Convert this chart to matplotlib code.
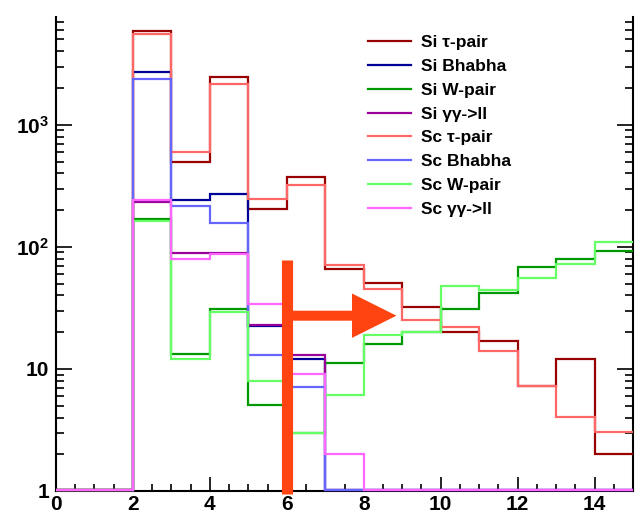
import numpy as np
import matplotlib.pyplot as plt
from matplotlib.ticker import FixedLocator, FixedFormatter, MultipleLocator

plt.rcParams['font.family'] = ['Liberation Sans', 'DejaVu Sans']
plt.rcParams['mathtext.fontset'] = 'custom'
plt.rcParams['mathtext.bf'] = 'Liberation Sans:bold'
plt.rcParams['mathtext.rm'] = 'Liberation Sans:bold'
plt.rcParams['mathtext.default'] = 'bf'

# bin edges 0..15, one bin per unit; 0 = empty bin
edges = np.arange(0, 16)

si_tau = [0, 0, 5900, 500, 2450, 205, 377, 66, 51, 32, 20, 17, 7.2, 12, 2.0]
si_bhabha = [0, 0, 2700, 240, 272, 22.4, 12.1, 0, 0, 0, 0, 0, 0, 0, 0]
si_wpair = [0, 0, 170, 13.3, 31, 5.1, 3.0, 11.1, 16, 20, 31, 42, 69, 80, 93]
si_gg = [0, 0, 235, 89, 89, 23, 13.1, 0, 0, 0, 0, 0, 0, 0, 0]
sc_tau = [0, 0, 5570, 597, 2170, 247, 324, 71, 45, 25.4, 22, 14.1, 7.2, 4.06, 3.06]
sc_bhabha = [0, 0, 2380, 215, 157, 13.1, 7.1, 0, 0, 0, 0, 0, 0, 0, 0]
sc_wpair = [0, 0, 162, 12.1, 29, 8.0, 3.0, 6.1, 19, 20, 48, 44, 56, 72, 109]
sc_gg = [0, 0, 240, 80, 88, 34, 9.1, 2.0, 0, 0, 0, 0, 0, 0, 0]

labels = ['Si \u03c4-pair', 'Si Bhabha', 'Si W-pair', 'Si \u03b3\u03b3->ll',
          'Sc \u03c4-pair', 'Sc Bhabha', 'Sc W-pair', 'Sc \u03b3\u03b3->ll']
colors = ['#990000', '#000099', '#009900', '#990099',
          '#ff6666', '#6666ff', '#66ff66', '#ff66ff']
series = [si_tau, si_bhabha, si_wpair, si_gg, sc_tau, sc_bhabha, sc_wpair, sc_gg]

cut = 6
arrow_y = 27.3
ymin, ymax = 1, 7640

fig = plt.figure(figsize=(6.36, 5.13), dpi=100)
ax = fig.add_axes([56 / 636, 22 / 513, 577 / 636, 474 / 513])

for vals, lab, col in zip(series, labels, colors):
    v = np.array(vals, dtype=float)
    v = np.where(v > 0, v, ymin * 1.01)  # empty bins sit on the bottom like ROOT
    ax.stairs(v, edges, baseline=None, color=col, lw=1.6, label=lab,
              clip_on=False, zorder=3)

ax.set_yscale('log')
ax.set_xlim(0, 15)
ax.set_ylim(ymin, ymax)

# cut line and arrow
ax.plot([cut, cut], [78, 0.94], color='#ff4411', lw=8, solid_capstyle='butt',
        clip_on=False, zorder=10)
ax.annotate('', xy=(8.85, arrow_y), xytext=(cut, arrow_y),
            arrowprops=dict(arrowstyle='simple,head_width=32,head_length=32,tail_width=7.2',
                            mutation_scale=1, fc='#ff4411', ec='none', lw=0,
                            shrinkA=0, shrinkB=0),
            zorder=10)

ax.spines['top'].set_visible(False)
for s in ['left', 'bottom', 'right']:
    ax.spines[s].set_linewidth(1.5)

ax.xaxis.set_major_locator(MultipleLocator(2))
ax.xaxis.set_minor_locator(MultipleLocator(0.5))
ax.tick_params(axis='x', which='major', direction='in', length=10, width=1.2,
               labelsize=15, pad=3, top=False)
ax.tick_params(axis='x', which='minor', direction='in', length=5, width=1.2, top=False)
for t in ax.get_xticklabels():
    t.set_fontweight('bold')

ax.yaxis.set_major_locator(FixedLocator([1, 10, 100, 1000]))
ax.yaxis.set_major_formatter(FixedFormatter(['1', '10', '$10^{2}$', '$10^{3}$']))
ax.tick_params(axis='y', which='major', direction='in', length=11.5, width=1.2,
               labelsize=15, pad=5, right=True)
ax.tick_params(axis='y', which='minor', direction='in', length=6, width=1.2, right=True)
for t in ax.get_yticklabels():
    t.set_fontweight('bold')

leg = ax.legend(loc='upper left', bbox_to_anchor=(368 / 636, 1 - 35 / 513),
                bbox_transform=fig.transFigure, frameon=False,
                prop={'weight': 'bold', 'size': 12.5}, handlelength=2.5,
                handletextpad=0.55, labelspacing=0.5, borderpad=0, borderaxespad=0)
for h in leg.get_lines():
    h.set_linewidth(1.6)

fig.savefig('out.png', dpi=100)
